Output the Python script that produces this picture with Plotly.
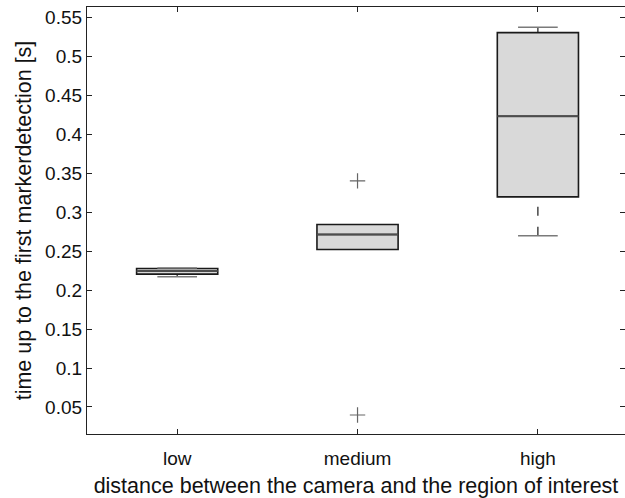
import plotly.graph_objects as go

categories = ["low", "medium", "high"]
q1 = [0.2207, 0.2524, 0.3200]
median = [0.2246, 0.2717, 0.4236]
q3 = [0.2280, 0.2844, 0.5310]
lower_whisker = [0.2173, 0.2524, 0.2700]
upper_whisker = [0.2285, 0.2844, 0.5380]
outlier_cat = ["medium", "medium"]
outlier_val = [0.3405, 0.0397]
y_ticks = [0.05, 0.1, 0.15, 0.2, 0.25, 0.3, 0.35, 0.4, 0.45, 0.5, 0.55]

pos = {c: i + 1 for i, c in enumerate(categories)}
xs = [pos[c] for c in categories]
BOX_W = 0.45
CAP_W = 0.22

fig = go.Figure()
fig.add_trace(go.Box(
    x=xs, q1=q1, median=median, q3=q3,
    lowerfence=q1, upperfence=q3,
    width=BOX_W, fillcolor="#d9d9d9",
    line=dict(color="#1a1a1a", width=1.6),
    whiskerwidth=0, boxpoints=False, showlegend=False, hoverinfo="skip",
))

# median lines
mx, my = [], []
for x, m in zip(xs, median):
    mx += [x - BOX_W / 2, x + BOX_W / 2, None]
    my += [m, m, None]
fig.add_trace(go.Scatter(x=mx, y=my, mode="lines",
                         line=dict(color="#4d4d4d", width=2), showlegend=False, hoverinfo="skip"))

# whiskers (dashed), drawn from whisker end toward the box
wx, wy = [], []
for x, a, b, lo, hi in zip(xs, q1, q3, lower_whisker, upper_whisker):
    if hi > b:
        wx += [x, x, None]; wy += [hi, b, None]
    if lo < a:
        wx += [x, x, None]; wy += [lo, a, None]
fig.add_trace(go.Scatter(x=wx, y=wy, mode="lines",
                         line=dict(color="#1a1a1a", width=1.2, dash="9px,11px"),
                         showlegend=False, hoverinfo="skip"))

# caps (only where the whisker leaves the box)
cx, cy = [], []
for x, a, b, lo, hi in zip(xs, q1, q3, lower_whisker, upper_whisker):
    if lo < a:
        cx += [x - CAP_W / 2, x + CAP_W / 2, None]; cy += [lo, lo, None]
    if hi > b:
        cx += [x - CAP_W / 2, x + CAP_W / 2, None]; cy += [hi, hi, None]
fig.add_trace(go.Scatter(x=cx, y=cy, mode="lines",
                         line=dict(color="#7a7a7a", width=1.5), showlegend=False, hoverinfo="skip"))

# outliers
fig.add_trace(go.Scatter(x=[pos[c] for c in outlier_cat], y=outlier_val, mode="markers",
                         marker=dict(symbol="cross-thin", size=11, line=dict(color="#666666", width=1.2)),
                         showlegend=False, hoverinfo="skip"))

# right-side tick marks
fig.add_trace(go.Scatter(x=[None], y=[None], yaxis="y2", showlegend=False, hoverinfo="skip"))

yr = [0.0153, 0.5639]
fig.update_layout(
    width=625, height=498,
    margin=dict(l=87, r=0, t=7, b=64),
    paper_bgcolor="white", plot_bgcolor="white",
    font=dict(family="Liberation Sans, Arial, sans-serif", size=19, color="#111111"),
    xaxis=dict(range=[0.5, 3.483], tickvals=xs, ticktext=categories,
               ticks="inside", ticklen=5, tickcolor="#222", showline=True, linecolor="#222",
               linewidth=1.2, mirror="ticks", showgrid=False, zeroline=False,
               ticklabelstandoff=7,
               title=dict(text="distance between the camera and the region of interest",
                          font=dict(size=21.5), standoff=11)),
    yaxis=dict(range=yr, tickvals=y_ticks, ticktext=[f"{v:g}" for v in y_ticks],
               ticks="inside", ticklen=5, tickcolor="#222", showline=True, linecolor="#222",
               linewidth=1.2, showgrid=False, zeroline=False,
               title=dict(text="time up to the first markerdetection [s]",
                          font=dict(size=21.5), standoff=7)),
    yaxis2=dict(range=yr, overlaying="y", side="right", tickvals=y_ticks,
                ticks="inside", ticklen=5, tickcolor="#222", showline=False,
                showticklabels=False, showgrid=False, zeroline=False),
)

fig.write_html("out.html")
